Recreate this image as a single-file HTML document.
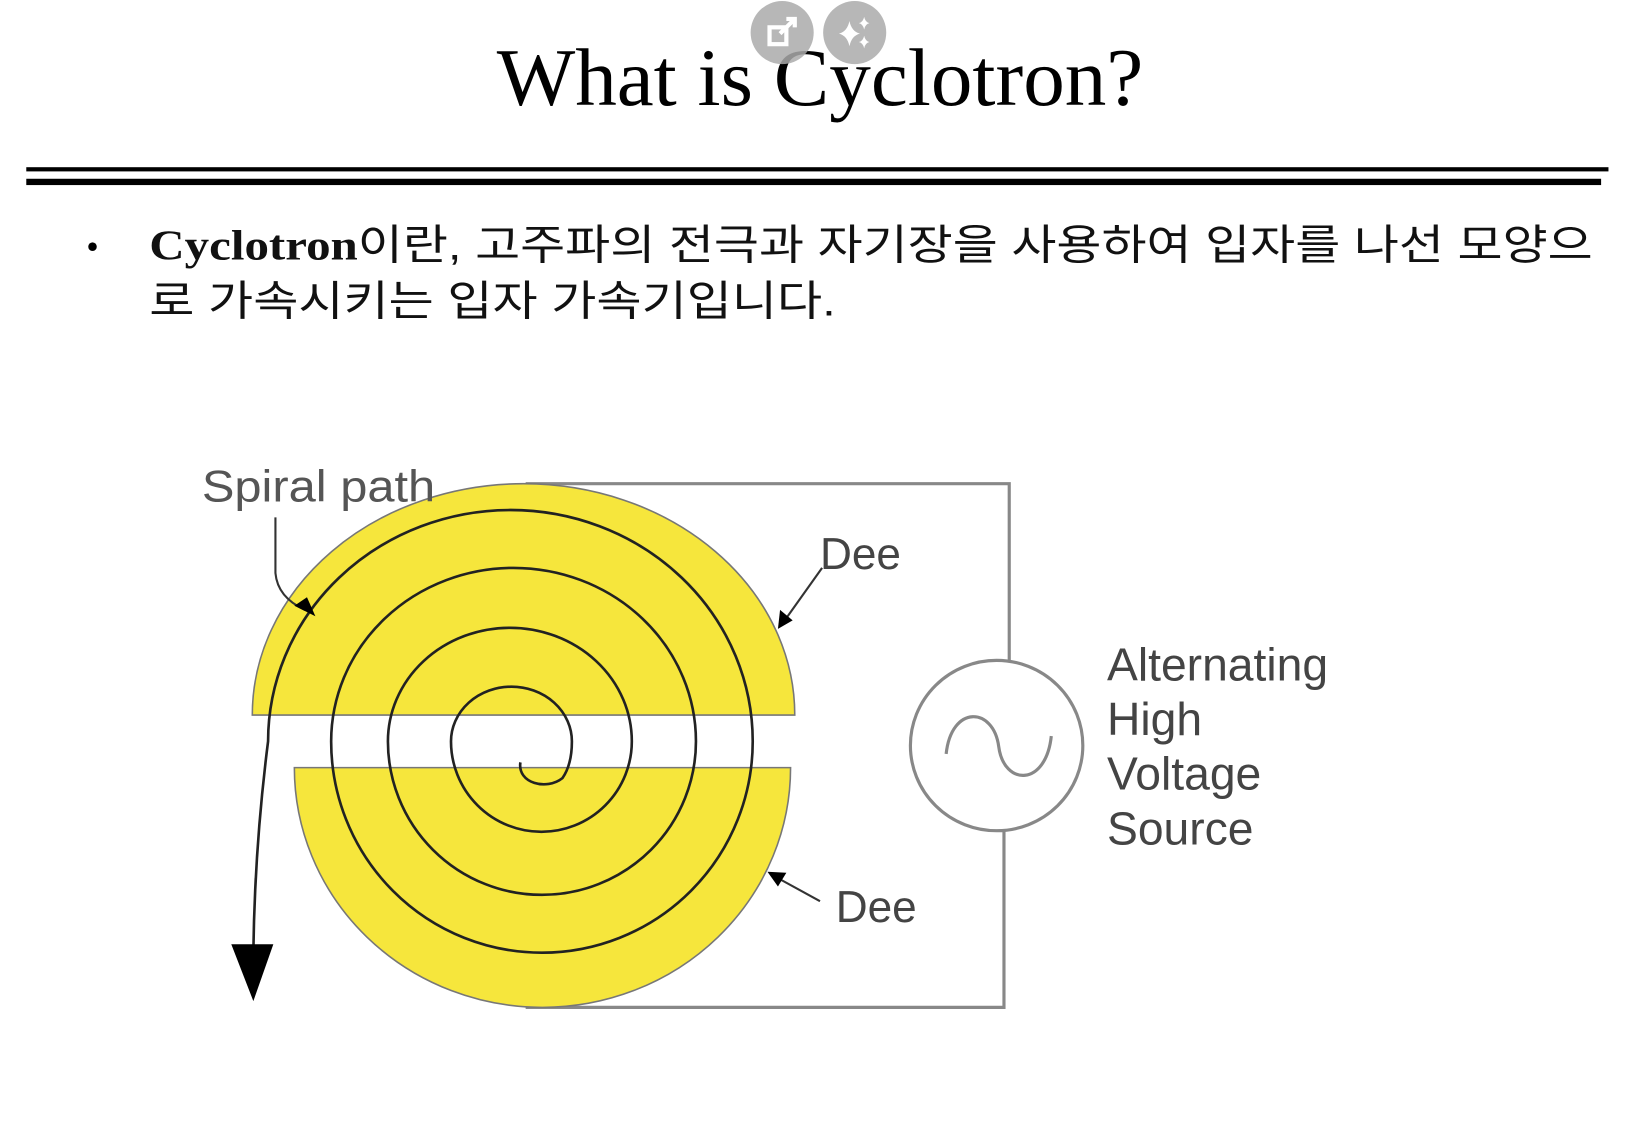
<!DOCTYPE html>
<html><head><meta charset="utf-8"><style>
html,body{margin:0;padding:0;background:#fff;width:1640px;height:1122px;overflow:hidden}
svg{display:block}
</style></head><body>
<svg width="1640" height="1122" viewBox="0 0 1560 1067" preserveAspectRatio="none" xmlns="http://www.w3.org/2000/svg">
<rect width="1560" height="1067" fill="#fff"/>
<text x="780" y="100" text-anchor="middle" font-family="'Liberation Serif',serif" font-size="78" fill="#000" textLength="615" lengthAdjust="spacingAndGlyphs">What is Cyclotron?</text>
<g><circle cx="744" cy="31" r="30" fill="#aaa" opacity="0.85"/>
<rect x="732" y="26" width="16" height="16" fill="none" stroke="#fff" stroke-width="4"/><path d="M742 32 L756 18 M748 18 L756 18 L756 26" stroke="#fff" stroke-width="4" fill="none"/></g>
<g><circle cx="813" cy="31" r="30" fill="#aaa" opacity="0.85"/>
<path d="M808 20 Q810 30 818 32 Q810 34 808 44 Q806 34 798 32 Q806 30 808 20Z M822 16 Q823 21 827 22 Q823 23 822 28 Q821 23 817 22 Q821 21 822 16Z M822 34 Q823 39 827 40 Q823 41 822 46 Q821 41 817 40 Q821 39 822 34Z" fill="#fff"/></g>
<rect x="25" y="159" width="1505" height="4" fill="#000"/>
<rect x="25" y="170" width="1498" height="6" fill="#000"/>
<text x="82" y="246" font-family="'Liberation Serif',serif" font-size="34" fill="#000">•</text>
<text x="142" y="247" font-size="40" fill="#111" textLength="1373" lengthAdjust="spacingAndGlyphs"><tspan font-family="'Liberation Serif',serif" font-weight="bold">Cyclotron</tspan><tspan font-family="'Liberation Sans','Noto Sans CJK KR',sans-serif">이란, 고주파의 전극과 자기장을 사용하여 입자를 나선 모양으</tspan></text>
<text x="142" y="300" font-family="'Liberation Sans','Noto Sans CJK KR',sans-serif" font-size="40" fill="#111" textLength="653" lengthAdjust="spacingAndGlyphs">로 가속시키는 입자 가속기입니다.</text>

<g stroke="#888" stroke-width="3" fill="none">
<path d="M500 460 L960 460 L960 628"/>
<path d="M955 790 L955 958 L500 958"/>
</g>
<g fill="none" stroke="#888" stroke-width="3">
<ellipse cx="948" cy="709" rx="82" ry="81" fill="#fff"/>
<path d="M900 717 C905 670 945 672 950 710 C955 748 995 748 1000 700"/>
</g>
<g font-family="'Liberation Sans',sans-serif" font-size="44" fill="#444">
<text x="1053" y="647">Alternating</text><text x="1053" y="699">High</text><text x="1053" y="751">Voltage</text><text x="1053" y="803">Source</text></g>

<path d="M240 680 A258 220 0 0 1 756 680 Z" fill="#f6e63c" stroke="#777" stroke-width="1.5"/>
<path d="M280 730 A236 228 0 0 0 752 730 Z" fill="#f6e63c" stroke="#777" stroke-width="1.5"/>

<path fill="none" stroke="#222" stroke-width="2.5"
d="M495 725 C492 745 520 752 535 740 C542 730 544 718 544 705
A57.5 52 0 0 0 429 705 A86 86 0 0 0 601 705
A116 108 0 0 0 369 705 A146.5 146 0 0 0 662 705
A173.5 165 0 0 0 315 705 A200.5 201 0 0 0 716 705
A230.5 220 0 0 0 255 705 C248 760 242 830 241 905"/>
<path d="M220 898 L260 898 L241 952 Z" fill="#000"/>

<text x="192" y="477" font-family="'Liberation Sans',sans-serif" font-size="42" fill="#555" textLength="222" lengthAdjust="spacingAndGlyphs">Spiral path</text>
<path d="M262 492 L262 545 Q264 568 290 580" fill="none" stroke="#333" stroke-width="2"/>
<path d="M280 576 L300 586 L292 568 Z" fill="#000"/>
<text x="780" y="541" font-family="'Liberation Sans',sans-serif" font-size="42" fill="#444">Dee</text>
<path d="M782 540 L745 592" stroke="#333" stroke-width="2"/>
<path d="M740 598 L742 580 L754 590 Z" fill="#000"/>
<text x="795" y="877" font-family="'Liberation Sans',sans-serif" font-size="42" fill="#444">Dee</text>
<path d="M780 857 L738 834" stroke="#333" stroke-width="2"/>
<path d="M730 829 L748 830 L740 843 Z" fill="#000"/>
</svg>
</body></html>
